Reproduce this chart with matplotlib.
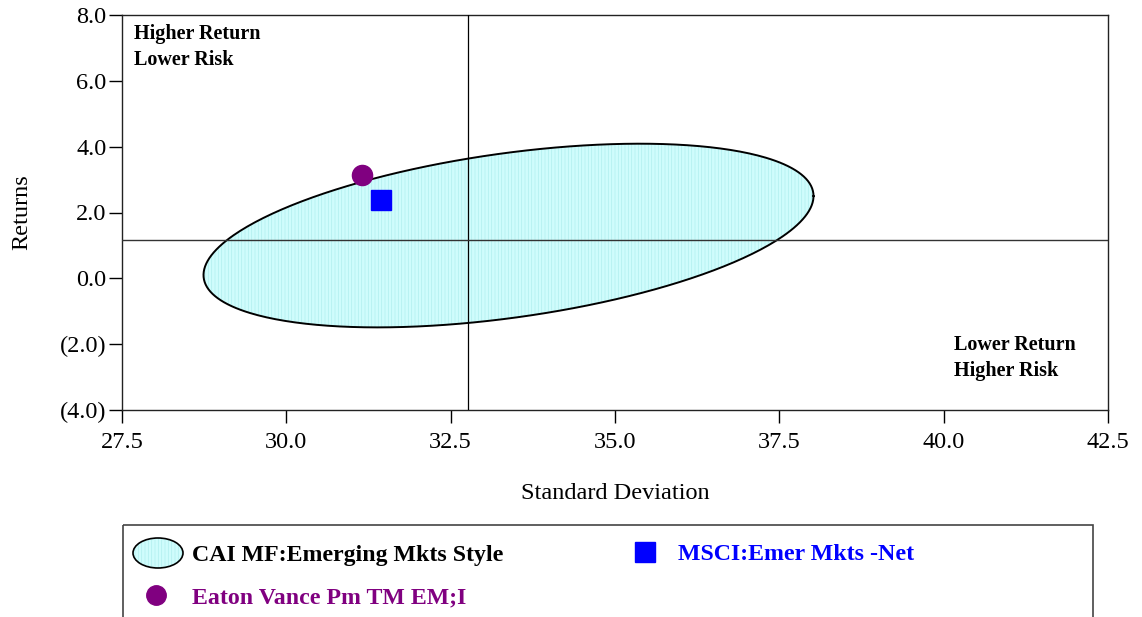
import numpy as np
import matplotlib
matplotlib.use("Agg")
import matplotlib.pyplot as plt
from matplotlib.patches import Ellipse, Rectangle

# ---- data ----
x_ticks = [27.5, 30.0, 32.5, 35.0, 37.5, 40.0, 42.5]
y_ticks = [-4.0, -2.0, 0.0, 2.0, 4.0, 6.0, 8.0]
y_tick_labels = ["(4.0)", "(2.0)", "0.0", "2.0", "4.0", "6.0", "8.0"]

style_name = "CAI MF:Emerging Mkts Style"
style_center = [33.38, 1.30]          # (std dev, return)
style_spread = [4.64, 2.79]           # half extents (std dev, return)
style_corr = 0.43

fund_name = "Eaton Vance Pm TM EM;I"
fund_point = [31.15, 3.14]
index_name = "MSCI:Emer Mkts -Net"
index_point = [31.44, 2.38]

median_x = 32.76
median_y = 1.17

plt.rcParams['font.family'] = ['Liberation Serif', 'DejaVu Serif']
plt.rcParams['hatch.linewidth'] = 0.5

W, H = 1142, 617
fig = plt.figure(figsize=(W / 100, H / 100), dpi=100)
ax = fig.add_axes([122 / W, 1 - 410 / H, (1108 - 122) / W, (410 - 15) / H])

# ellipse from spread + correlation
sx, sy = style_spread
cov = np.array([[sx * sx, style_corr * sx * sy], [style_corr * sx * sy, sy * sy]])
L = np.linalg.cholesky(cov)
t = np.linspace(0, 2 * np.pi, 400)
pts = L @ np.vstack([np.cos(t), np.sin(t)])
ex = style_center[0] + pts[0]
ey = style_center[1] + pts[1]
fill_face = '#cffcfc'
hatch_col = '#b0eeee'
ax.fill(ex, ey, facecolor=fill_face, edgecolor='none', zorder=1)
ax.fill(ex, ey, facecolor='none', edgecolor=hatch_col, hatch='|||||', linewidth=0, zorder=1.1)
ax.plot(ex, ey, color='black', lw=1.4, zorder=2)

ax.axvline(median_x, color='black', lw=0.9, zorder=3)
ax.axhline(median_y, color='#333333', lw=1.0, zorder=3)

ax.plot([fund_point[0]], [fund_point[1]], 'o', color='#800080', ms=14.5, mec='#800080', zorder=5)
ax.plot([index_point[0]], [index_point[1]], 's', color='#0000ff', ms=14.5, mec='#0000ff', zorder=5)

ax.set_xlim(27.5, 42.5)
ax.set_ylim(-4, 8)
ax.set_xticks(x_ticks)
ax.set_xticklabels([f"{v:.1f}" for v in x_ticks])
ax.set_yticks(y_ticks)
ax.set_yticklabels(y_tick_labels)
ax.tick_params(direction='out', length=9.5, width=1, labelsize=17.5, colors='black')
ax.tick_params(axis='x', pad=6)
ax.tick_params(axis='y', pad=1.5)
for s in ax.spines.values():
    s.set_color('#222222')
    s.set_linewidth(1.0)

ax.set_xlabel("Standard Deviation", fontsize=17.5, labelpad=22)
ax.set_ylabel("Returns", fontsize=17.5, labelpad=20)

ax.text(0.0125, 0.977, "Higher Return\nLower Risk", transform=ax.transAxes, ha='left', va='top',
        fontsize=14.5, fontweight='bold', linespacing=1.38)
ax.text(0.844, 0.19, "Lower Return\nHigher Risk", transform=ax.transAxes, ha='left', va='top',
        fontsize=14.5, fontweight='bold', linespacing=1.38)

# ---- legend panel ----
lax = fig.add_axes([0, 0, 1, 1], facecolor='none')
lax.set_xlim(0, W)
lax.set_ylim(H, 0)
lax.axis('off')
lax.add_patch(Rectangle((123, 525), 1093 - 123, 120, facecolor='none', edgecolor='#444444', lw=1.2))
lax.add_patch(Ellipse((158, 553), 50, 30, facecolor=fill_face, edgecolor='none'))
lax.add_patch(Ellipse((158, 553), 50, 30, facecolor='none', edgecolor=hatch_col, hatch='|||||', lw=0))
lax.add_patch(Ellipse((158, 553), 50, 30, facecolor='none', edgecolor='black', lw=1.2))
lax.text(192, 555, style_name, fontsize=17.2, fontweight='bold', va='center', ha='left', color='black')
lax.plot([156], [595], 'o', color='#800080', ms=14, zorder=5)
lax.text(192, 598, fund_name, fontsize=17.2, fontweight='bold', va='center', ha='left', color='#800080')
lax.plot([645], [552], 's', color='#0000ff', ms=14, zorder=5)
lax.text(678, 555, index_name, fontsize=17.2, fontweight='bold', va='center', ha='left', color='#0000ff')

fig.savefig("out.png", dpi=100)
